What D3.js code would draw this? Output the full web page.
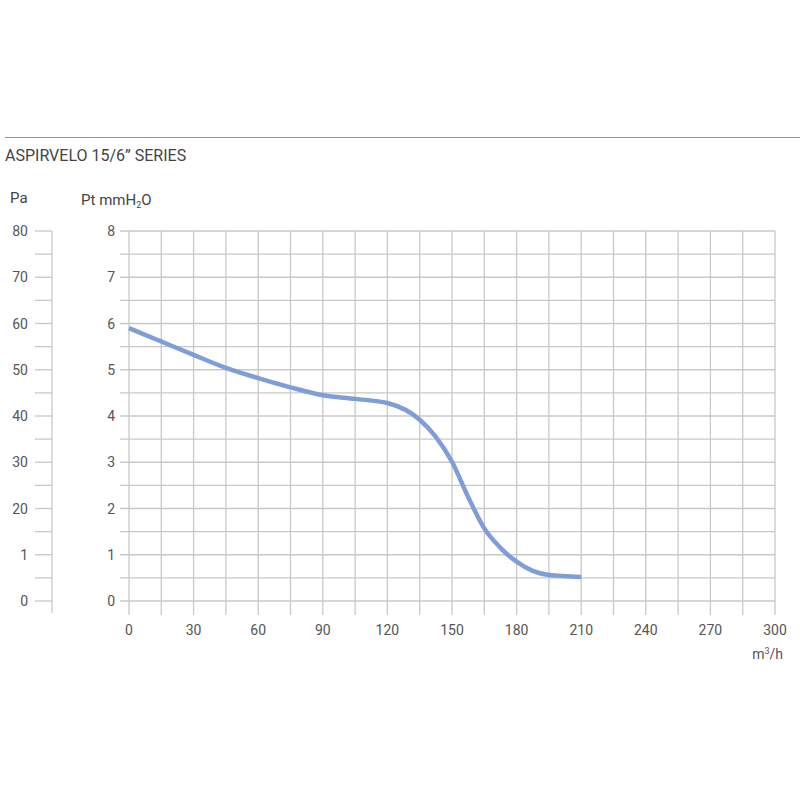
<!DOCTYPE html>
<html>
<head>
<meta charset="utf-8">
<script src="https://cdn.jsdelivr.net/npm/d3@7"></script>
<style>
  body { margin: 0; background: #fff; }
  text { font-family: Roboto, "Liberation Sans", sans-serif; fill: #555; }
</style>
</head>
<body>
<div id="chart"></div>
<script>
// curve: flow (m3/h) vs Pt (mmH2O)
var flow = [0, 15, 30, 45, 60, 75, 90, 105, 120, 135, 142.5, 150, 157.5, 165, 172.5, 180, 187.5, 195, 210];
var pressure = [5.9, 5.61, 5.32, 5.04, 4.82, 4.62, 4.45, 4.37, 4.28, 3.92, 3.55, 3.01, 2.25, 1.57, 1.15, 0.85, 0.65, 0.56, 0.52];

var xTicks = [0, 30, 60, 90, 120, 150, 180, 210, 240, 270, 300];
var mmTicks = [0, 1, 2, 3, 4, 5, 6, 7, 8];
var mmLabels = ["0", "1", "2", "3", "4", "5", "6", "7", "8"];
var paLabels = ["0", "1", "20", "30", "40", "50", "60", "70", "80"];

function render() {
    const width = 800;
    const height = 800;

    const svg = d3.select("#chart")
        .append("svg")
        .attr("width", width)
        .attr("height", height);

    const x = d3.scaleLinear().domain([0, 300]).range([129, 775]);
    const y = d3.scaleLinear().domain([0, 8]).range([601, 231]);

    // top rule + title
    svg.append("line")
        .attr("x1", 5).attr("x2", 800)
        .attr("y1", 137.5).attr("y2", 137.5)
        .attr("stroke", "#7d9ad8").attr("stroke-width", 1);

    svg.append("text")
        .attr("x", 5).attr("y", 161)
        .style("font-size", "16px")
        .style("fill", "#444")
        .text("ASPIRVELO 15/6\u201D SERIES");

    svg.append("text")
        .attr("x", 10).attr("y", 203)
        .style("font-size", "15px")
        .style("fill", "#444")
        .text("Pa");

    const unit = svg.append("text")
        .attr("x", 81).attr("y", 205)
        .style("font-size", "15px")
        .style("fill", "#444");
    unit.append("tspan").text("Pt mmH");
    unit.append("tspan").attr("dy", 3).style("font-size", "9px").text("2");
    unit.append("tspan").attr("dy", -3).text("O");

    const halfSteps = d3.range(0, 8.01, 0.5);
    const xMinor = d3.range(0, 300.1, 15);

    // grid
    svg.append("g").selectAll("line")
        .data(halfSteps).enter()
        .append("line")
        .attr("x1", 120).attr("x2", x(300))
        .attr("y1", d => y(d)).attr("y2", d => y(d))
        .attr("stroke", "#c8c8c8").attr("stroke-width", 1.3);

    svg.append("g").selectAll("line")
        .data(xMinor).enter()
        .append("line")
        .attr("x1", d => x(d)).attr("x2", d => x(d))
        .attr("y1", y(8)).attr("y2", 615)
        .attr("stroke", "#c8c8c8").attr("stroke-width", 1.3);

    // Pa axis
    svg.append("line")
        .attr("x1", 52).attr("x2", 52)
        .attr("y1", y(8)).attr("y2", 613)
        .attr("stroke", "#c8c8c8").attr("stroke-width", 1.3);

    svg.append("g").selectAll("line")
        .data(halfSteps).enter()
        .append("line")
        .attr("x1", 35).attr("x2", 52)
        .attr("y1", d => y(d)).attr("y2", d => y(d))
        .attr("stroke", "#c8c8c8").attr("stroke-width", 1.3);

    svg.append("g").selectAll("text")
        .data(mmTicks).enter()
        .append("text")
        .attr("x", 28)
        .attr("y", d => y(d) + 5)
        .style("font-size", "14px")
        .style("text-anchor", "end")
        .text((d, i) => paLabels[i]);

    // mmH2O labels
    svg.append("g").selectAll("text")
        .data(mmTicks).enter()
        .append("text")
        .attr("x", 115)
        .attr("y", d => y(d) + 5)
        .style("font-size", "14px")
        .style("text-anchor", "end")
        .text((d, i) => mmLabels[i]);

    // x labels
    svg.append("g").selectAll("text")
        .data(xTicks).enter()
        .append("text")
        .attr("x", d => x(d))
        .attr("y", 635)
        .style("font-size", "14px")
        .style("text-anchor", "middle")
        .text(d => d);

    const mu = svg.append("text")
        .attr("x", 783).attr("y", 659)
        .style("font-size", "14px")
        .style("text-anchor", "end");
    mu.append("tspan").text("m");
    mu.append("tspan").attr("dy", -5).style("font-size", "9px").text("3");
    mu.append("tspan").attr("dy", 5).text("/h");

    // curve
    const line = d3.line()
        .x(d => x(d[0]))
        .y(d => y(d[1]))
        .curve(d3.curveMonotoneX);

    svg.append("path")
        .datum(flow.map((f, i) => [f, pressure[i]]))
        .attr("d", line)
        .attr("fill", "none")
        .attr("stroke", "#7f9ed8")
        .attr("stroke-width", 4.5)
        .attr("stroke-linecap", "butt");
}

render();
</script>
</body>
</html>
